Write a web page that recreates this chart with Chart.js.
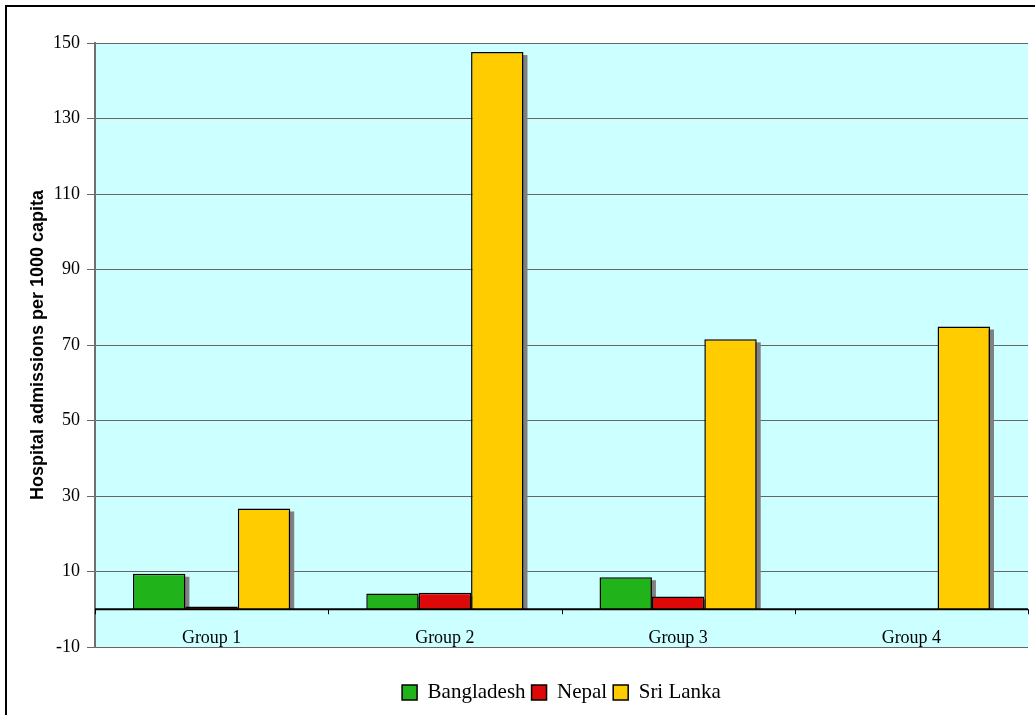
<!DOCTYPE html>
<html>
<head>
<meta charset="utf-8">
<script src="https://cdn.jsdelivr.net/npm/chart.js@4"></script>
<style>
  html, body { margin: 0; padding: 0; background: #fff; overflow: hidden; }
  #wrap { position: relative; width: 1035px; height: 715px; }
  #frame { position: absolute; left: 5px; top: 5px; width: 2000px; height: 2000px;
           border: 2px solid #000; pointer-events: none; }
</style>
</head>
<body>
<div id="wrap">
  <canvas id="myChart" width="1035" height="715"></canvas>
  <div id="frame"></div>
</div>
<script>
// categories and series
const groups = ['Group 1', 'Group 2', 'Group 3', 'Group 4'];
const bangladesh = [9.4, 4.2, 8.5, null];
const nepal = [0.7, 4.4, 3.4, null];
const sriLanka = [26.7, 147.6, 71.5, 74.9];
const yTicks = [-10, 10, 30, 50, 70, 90, 110, 130, 150];

const serif = '"Liberation Serif", "Times New Roman", serif';

// fond cyan + ombres des barres + ligne zero + libelles des groupes
const decor = {
  id: 'decor',
  beforeDraw(chart) {
    const a = chart.chartArea, c = chart.ctx;
    c.save();
    c.fillStyle = '#CCFFFF';
    c.fillRect(a.left, a.top, a.right - a.left, a.bottom - a.top);
    c.restore();
  },
  beforeDatasetsDraw(chart) {
    const c = chart.ctx;
    c.save();
    c.fillStyle = '#808080';
    chart.getSortedVisibleDatasetMetas().forEach(meta => {
      meta.data.forEach(bar => {
        if (bar.skip || isNaN(bar.y)) return;
        const h = bar.base - bar.y;
        if (h <= 0) return;
        c.fillRect(bar.x - bar.width / 2 + 4, bar.y + 3, bar.width, h - 3);
      });
    });
    c.restore();
  },
  afterDatasetsDraw(chart) {
    const c = chart.ctx, a = chart.chartArea;
    const x = chart.scales.x, y = chart.scales.y;
    const y0 = y.getPixelForValue(0);
    c.save();
    c.strokeStyle = '#000';
    c.lineWidth = 2;
    c.beginPath();
    c.moveTo(a.left, y0);
    c.lineTo(a.right, y0);
    c.stroke();
    c.lineWidth = 1;
    c.beginPath();
    for (let i = 0; i <= groups.length; i++) {
      const px = Math.round(a.left + (a.right - a.left) * i / groups.length) + 0.5;
      c.moveTo(px, y0);
      c.lineTo(px, y0 + 5);
    }
    c.stroke();
    c.fillStyle = '#000';
    c.font = '18px ' + serif;
    c.textAlign = 'center';
    c.textBaseline = 'alphabetic';
    groups.forEach((g, i) => {
      c.fillText(g, x.getPixelForValue(i), y.getPixelForValue(-10) - 4);
    });
    c.restore();
  }
};

const ctx = document.getElementById('myChart');
new Chart(ctx, {
  type: 'bar',
  data: {
    labels: groups,
    datasets: [
      { label: 'Bangladesh', data: bangladesh, backgroundColor: '#20B41A', borderColor: '#000', borderWidth: 1.5 },
      { label: 'Nepal', data: nepal, backgroundColor: '#DD0808', borderColor: '#000', borderWidth: 1.5 },
      { label: 'Sri Lanka', data: sriLanka, backgroundColor: '#FFCC00', borderColor: '#000', borderWidth: 1.5 }
    ]
  },
  options: {
    responsive: false,
    animation: false,
    datasets: { bar: { categoryPercentage: 0.674, barPercentage: 1 } },
    layout: { padding: { left: 27, top: 43, right: 7, bottom: 2 } },
    scales: {
      x: {
        ticks: { display: false },
        grid: { display: false },
        border: { display: false },
        afterFit: s => { s.height = 29; }
      },
      y: {
        min: -10,
        max: 150,
        afterBuildTicks: s => { s.ticks = yTicks.map(v => ({ value: v })); },
        afterFit: s => { s.width = 68; },
        grid: { color: '#666666', lineWidth: 1, tickLength: 8 },
        border: { color: '#707070', width: 2 },
        ticks: { color: '#000', padding: 7, font: { family: serif, size: 18 } },
        title: {
          display: true,
          text: 'Hospital admissions per 1000 capita',
          color: '#000',
          padding: 0,
          font: { family: '"Liberation Sans", Arial, sans-serif', size: 18, weight: 'bold' }
        }
      }
    },
    plugins: {
      legend: {
        position: 'bottom',
        fullSize: false,
        labels: { color: '#000', boxWidth: 15, boxHeight: 15, padding: 6, font: { family: serif, size: 21 } }
      },
      tooltip: { enabled: false }
    }
  },
  plugins: [decor]
});
</script>
</body>
</html>
